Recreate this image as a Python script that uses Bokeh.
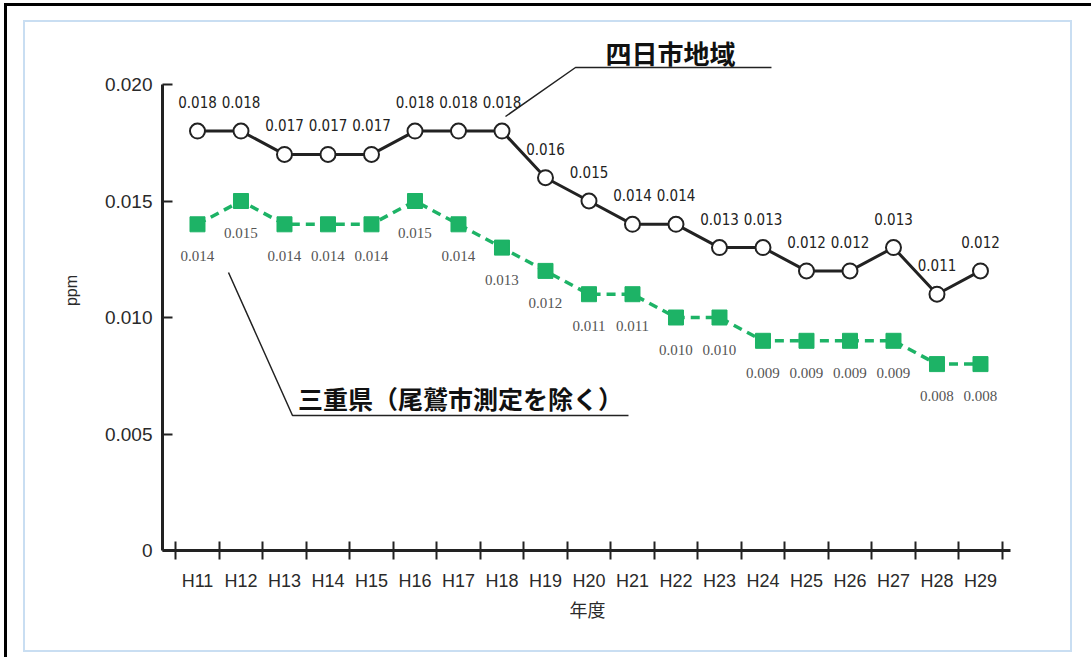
from bokeh.plotting import figure
from bokeh.models import FixedTicker, Range1d, ColumnDataSource
from bokeh.core.properties import value
from bokeh.embed import file_html
from bokeh.resources import INLINE

# Fiscal years (Heisei era)
years = ["H11", "H12", "H13", "H14", "H15", "H16", "H17", "H18", "H19", "H20",
         "H21", "H22", "H23", "H24", "H25", "H26", "H27", "H28", "H29"]

# Annual mean concentration (ppm)
yokkaichi = [0.018, 0.018, 0.017, 0.017, 0.017, 0.018, 0.018, 0.018, 0.016, 0.015,
             0.014, 0.014, 0.013, 0.013, 0.012, 0.012, 0.013, 0.011, 0.012]
mie = [0.014, 0.015, 0.014, 0.014, 0.014, 0.015, 0.014, 0.013, 0.012, 0.011,
       0.011, 0.010, 0.010, 0.009, 0.009, 0.009, 0.009, 0.008, 0.008]

y_ticks = [0.0, 0.005, 0.010, 0.015, 0.020]
y_tick_labels = ["0", "0.005", "0.010", "0.015", "0.020"]

series_names = ["四日市地域", "三重県（尾鷲市測定を除く）"]

GREEN = "#1db366"
INK = "#222222"
PANEL_EDGE = "#c9def2"

xs = list(range(len(years)))
src = ColumnDataSource(dict(
    x=xs,
    yok=yokkaichi,
    mie=mie,
    yok_lab=[f"{v:.3f}" for v in yokkaichi],
    mie_lab=[f"{v:.3f}" for v in mie],
))

# page frame (black top/left rule) and light-blue panel drawn as CSS backgrounds
page_styles = {
    "background-color": "white",
    "background-image": ", ".join(["linear-gradient(#000, #000)"] * 2 +
                                  [f"linear-gradient({PANEL_EDGE}, {PANEL_EDGE})"] * 4),
    "background-size": "100% 3px, 3px 100%, 1049px 2px, 1049px 2px, 2px 632px, 2px 632px",
    "background-position": "4px 3px, 4px 3px, 23px 20px, 23px 650px, 23px 20px, 1070px 20px",
    "background-repeat": "no-repeat",
}

p = figure(width=1091, height=657,
           x_range=Range1d(-0.8046, 18.736), y_range=Range1d(0, 0.022318),
           output_backend="svg", toolbar_location=None,
           min_border_left=162, min_border_right=79,
           min_border_top=30, min_border_bottom=107,
           styles=page_styles)
p.outline_line_color = None
p.grid.visible = False
p.background_fill_color = None
p.border_fill_color = None

# x axis: ticks on year boundaries, labels at year centres
xa = p.xaxis[0]
xa.ticker = FixedTicker(ticks=xs, minor_ticks=[i - 0.5 for i in range(len(years) + 1)])
xa.major_label_overrides = {float(i): lab for i, lab in enumerate(years)}
xa.bounds = (-0.8046, 18.69)
xa.major_tick_in = 0
xa.major_tick_out = 0
xa.minor_tick_in = 9
xa.minor_tick_out = 9
xa.minor_tick_line_color = INK
xa.minor_tick_line_width = 2
xa.axis_line_color = INK
xa.axis_line_width = 3
xa.major_label_text_font = "Liberation Sans"
xa.major_label_text_font_size = "18px"
xa.major_label_text_color = "#2a2a2a"
xa.major_label_standoff = 11
xa.axis_label = "年度"
xa.axis_label_text_font = "Noto Sans CJK JP"
xa.axis_label_text_font_style = "normal"
xa.axis_label_text_font_size = "18px"
xa.axis_label_text_color = "#2a2a2a"
xa.axis_label_standoff = 2

ya = p.yaxis[0]
ya.ticker = FixedTicker(ticks=y_ticks)
ya.major_label_overrides = {t: lab for t, lab in zip(y_ticks, y_tick_labels)}
ya.bounds = (0, 0.020)
ya.major_tick_in = 10
ya.major_tick_out = 0
ya.major_tick_line_color = INK
ya.major_tick_line_width = 2
ya.minor_tick_line_color = None
ya.axis_line_color = INK
ya.axis_line_width = 3
ya.major_label_text_font = "Liberation Sans"
ya.major_label_text_font_size = "19px"
ya.major_label_text_color = "#2a2a2a"
ya.major_label_standoff = 10
ya.axis_label = "ppm"
ya.axis_label_text_font = "Liberation Sans"
ya.axis_label_text_font_style = "normal"
ya.axis_label_text_font_size = "16px"
ya.axis_label_text_color = "#2a2a2a"
ya.axis_label_standoff = 22

# Mie prefecture series: green dashed line with squares
p.line("x", "mie", source=src, line_color=GREEN, line_width=3.5, line_dash="9 6")
p.scatter("x", "mie", source=src, marker="square", size=15,
          fill_color=GREEN, line_color=GREEN)
p.text("x", "mie", text="mie_lab", source=src, y_offset=32,
       text_font=value("Liberation Serif"), text_font_size="15px",
       text_color="#555555", text_align="center", text_baseline="middle")

# Yokkaichi area series: black line with open circles
p.line("x", "yok", source=src, line_color=INK, line_width=3)
p.scatter("x", "yok", source=src, marker="circle", size=15,
          fill_color="white", line_color=INK, line_width=2)
p.text("x", "yok", text="yok_lab", source=src, y_offset=-29,
       text_font=value("'Liberation Sans Narrow', 'DejaVu Sans Condensed', sans-serif"),
       text_font_size="15px", text_color="#222222",
       text_align="center", text_baseline="middle")

# series callouts with leader lines
p.line([7.08, 8.69, 13.195], [0.018627, 0.02073, 0.02073],
       line_color=INK, line_width=1.5)
p.text([10.874], [0.021373], text=[series_names[0]],
       text_font=value("Noto Sans CJK JP"), text_font_style="bold",
       text_font_size="26px", text_color="#111111",
       text_align="center", text_baseline="middle")

p.line([0.7126, 2.1839, 9.908], [0.011931, 0.005794, 0.005794],
       line_color=INK, line_width=1.5)
p.text([6.046], [0.006524], text=[series_names[1]],
       text_font=value("Noto Sans CJK JP"), text_font_style="bold",
       text_font_size="25px", text_color="#111111",
       text_align="center", text_baseline="middle")

open("out.html", "w").write(file_html(p, INLINE))
